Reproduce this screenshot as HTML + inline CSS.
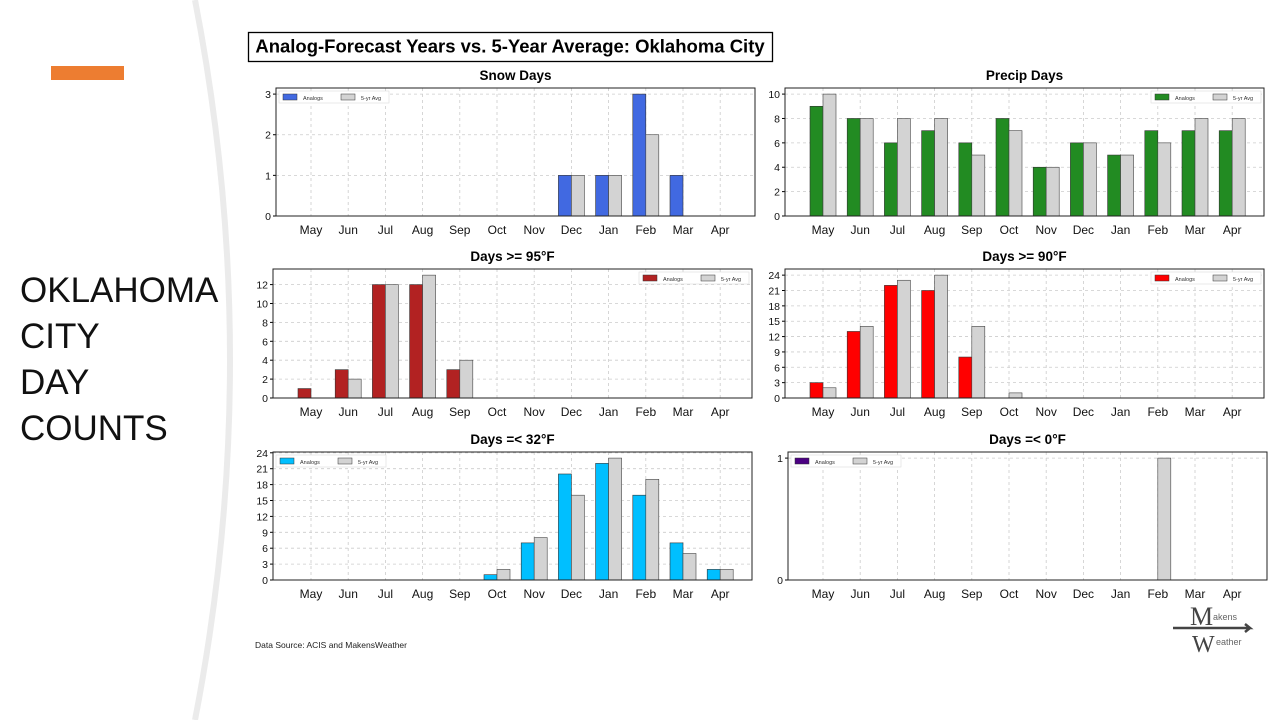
<!DOCTYPE html>
<html><head><meta charset="utf-8">
<style>
body{margin:0;width:1280px;height:720px;overflow:hidden;background:#fff;font-family:"Liberation Sans",sans-serif;}
#wrap{position:relative;width:1280px;height:720px;}
.side{position:absolute;left:20px;top:268px;font-size:35px;line-height:46px;color:#111;font-weight:300;letter-spacing:0px;}
</style></head>
<body>
<div id="wrap">
<svg width="1280" height="720" style="position:absolute;left:0;top:0">
<path d="M195,0 Q265,360 195,720" stroke="#ebebeb" stroke-width="6" fill="none"/>
<rect x="51" y="66" width="73" height="14" fill="#ed7d31"/>
</svg>
<div class="side">OKLAHOMA<br>CITY<br>DAY<br>COUNTS</div>
<svg id="chart" width="1280" height="720" style="position:absolute;left:0;top:0"></svg>
</div>
<script>
const months = ["May","Jun","Jul","Aug","Sep","Oct","Nov","Dec","Jan","Feb","Mar","Apr"];
const snowAnalog = [0,0,0,0,0,0,0,1,1,3,1,0];
const snowAvg = [0,0,0,0,0,0,0,1,1,2,0,0];
const precipAnalog = [9,8,6,7,6,8,4,6,5,7,7,7];
const precipAvg = [10,8,8,8,5,7,4,6,5,6,8,8];
const hot95Analog = [1,3,12,12,3,0,0,0,0,0,0,0];
const hot95Avg = [0,2,12,13,4,0,0,0,0,0,0,0];
const hot90Analog = [3,13,22,21,8,0,0,0,0,0,0,0];
const hot90Avg = [2,14,23,24,14,1,0,0,0,0,0,0];
const cold32Analog = [0,0,0,0,0,1,7,20,22,16,7,2];
const cold32Avg = [0,0,0,0,0,2,8,16,23,19,5,2];
const zeroAnalog = [0,0,0,0,0,0,0,0,0,0,0,0];
const zeroAvg = [0,0,0,0,0,0,0,0,0,1,0,0];
const snowTicks = [0,1,2,3];
const precipTicks = [0,2,4,6,8,10];
const hot95Ticks = [0,2,4,6,8,10,12];
const hot90Ticks = [0,3,6,9,12,15,18,21,24];
const cold32Ticks = [0,3,6,9,12,15,18,21,24];
const zeroTicks = [0,1];

const NS="http://www.w3.org/2000/svg";
const svg=document.getElementById('chart');
function mk(tag,attrs,parent){const e=document.createElementNS(NS,tag);for(const k in attrs)e.setAttribute(k,attrs[k]);(parent||svg).appendChild(e);return e;}

const tb=mk('rect',{x:248.5,y:32.5,width:524,height:29,fill:'#fff',stroke:'#000','stroke-width':1.3});


const tt=mk('text',{x:510,y:52.5,'text-anchor':'middle','font-size':18.5,'font-weight':'bold',fill:'#000'});
tt.textContent='Analog-Forecast Years vs. 5-Year Average: Oklahoma City';



const ds=mk('text',{x:255,y:648,'font-size':8.5,fill:'#222'});
ds.textContent='Data Source: ACIS and MakensWeather';



function panel(cfg){
  const g=mk('g',{});
  
  
  const L=cfg.l,R=cfg.r,T=cfg.t,B=cfg.b;
  const maxV=Math.max(...cfg.a,...cfg.v)*1.05;
  const y=v=>B-(v/maxV)*(B-T);
  const x0=311+(L-276>300?512:0), step=37.2;
  const x=i=>x0+i*step;
  const title=mk('text',{x:(L+R)/2,y:T-8,'text-anchor':'middle','font-size':13.5,'font-weight':'bold',fill:'#000'},g);
  title.textContent=cfg.title;
  
  
  months.forEach((m,i)=>{
    const gl=mk('line',{x1:x(i),x2:x(i),y1:T,y2:B,stroke:'#ccc','stroke-dasharray':'3,3','stroke-width':0.8},g);
    
    
    const lt=mk('text',{x:x(i),y:B+18,'text-anchor':'middle','font-size':12,fill:'#111'},g);
    lt.textContent=m;
    
    
  });
  cfg.ticks.forEach(tv=>{
    const gl=mk('line',{x1:L,x2:R,y1:y(tv),y2:y(tv),stroke:'#ccc','stroke-dasharray':'3,3','stroke-width':0.8},g);
    
    
    mk('line',{x1:L-3,x2:L,y1:y(tv),y2:y(tv),stroke:'#000'},g);
    const lt=mk('text',{x:L-5,y:y(tv)+4,'text-anchor':'end','font-size':10.5,fill:'#111'},g);
    lt.textContent=tv;
    
    
  });
  const bw=13;
  cfg.a.forEach((v,i)=>{
    if(v<=0)return;
    const r=mk('rect',{x:x(i)-bw,y:y(v),width:bw,height:B-y(v),fill:cfg.color,stroke:'#333','stroke-width':0.6},g);
    
    
  });
  cfg.v.forEach((v,i)=>{
    if(v<=0)return;
    const r=mk('rect',{x:x(i),y:y(v),width:bw,height:B-y(v),fill:'#d3d3d3',stroke:'#444','stroke-width':0.6},g);
    
    
  });
  const fr=mk('rect',{x:L,y:T,width:R-L,height:B-T,fill:'none',stroke:'#222','stroke-width':1},g);
  
  
  const lx=cfg.legRight?R-113:L+3, ly=T+3;
  const lg=mk('g',{},g);
  
  
  mk('rect',{x:lx,y:ly,width:110,height:12,fill:'#fff',stroke:'#ddd','stroke-width':0.6},lg);
  mk('rect',{x:lx+4,y:ly+3,width:14,height:6,fill:cfg.color,stroke:'#333','stroke-width':0.5},lg);
  const t1=mk('text',{x:lx+24,y:ly+9,'font-size':5.5,fill:'#333'},lg);t1.textContent='Analogs';
  mk('rect',{x:lx+62,y:ly+3,width:14,height:6,fill:'#d3d3d3',stroke:'#333','stroke-width':0.5},lg);
  const t2=mk('text',{x:lx+82,y:ly+9,'font-size':5.5,fill:'#333'},lg);t2.textContent='5-yr Avg';
}
panel({name:'snow-days-panel',title:'Snow Days',l:276,r:755,t:88,b:216,a:snowAnalog,v:snowAvg,ticks:snowTicks,color:'#4169e1',legRight:false});
panel({name:'precip-days-panel',title:'Precip Days',l:785,r:1264,t:88,b:216,a:precipAnalog,v:precipAvg,ticks:precipTicks,color:'#228b22',legRight:true});
panel({name:'days-95f-panel',title:'Days >= 95°F',l:273,r:752,t:269,b:398,a:hot95Analog,v:hot95Avg,ticks:hot95Ticks,color:'#b22222',legRight:true});
panel({name:'days-90f-panel',title:'Days >= 90°F',l:785,r:1264,t:269,b:398,a:hot90Analog,v:hot90Avg,ticks:hot90Ticks,color:'#ff0000',legRight:true});
panel({name:'days-32f-panel',title:'Days =< 32°F',l:273,r:752,t:452,b:580,a:cold32Analog,v:cold32Avg,ticks:cold32Ticks,color:'#00bfff',legRight:false});
panel({name:'days-0f-panel',title:'Days =< 0°F',l:788,r:1267,t:452,b:580,a:zeroAnalog,v:zeroAvg,ticks:zeroTicks,color:'#4b0082',legRight:false});

const lgo=mk('g',{});


mk('path',{d:'M1173,628 L1250,628 L1245,624 M1250,628 L1245,632',stroke:'#444','stroke-width':2.5,fill:'none'},lgo);
const m1=mk('text',{x:1190,y:625,'font-size':26,fill:'#444','font-family':'Liberation Serif'},lgo);m1.textContent='M';
const m2=mk('text',{x:1213,y:620,'font-size':9,fill:'#666'},lgo);m2.textContent='akens';
const w1=mk('text',{x:1192,y:652,'font-size':24,fill:'#444','font-family':'Liberation Serif'},lgo);w1.textContent='W';
const w2=mk('text',{x:1216,y:645,'font-size':9,fill:'#666'},lgo);w2.textContent='eather';
</script>
</body></html>
